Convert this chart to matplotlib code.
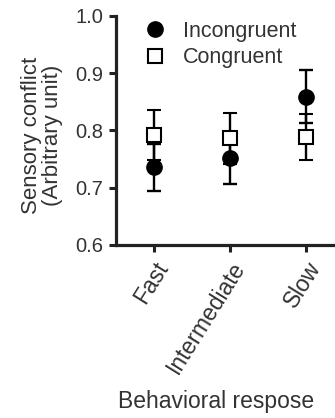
import numpy as np
import matplotlib
matplotlib.use("Agg")
import matplotlib.pyplot as plt
from matplotlib.lines import Line2D

categories = ["Fast", "Intermediate", "Slow"]
incongruent = [0.736, 0.751, 0.859]
incongruent_err = [0.041, 0.044, 0.046]
congruent = [0.792, 0.786, 0.789]
congruent_err = [0.043, 0.045, 0.040]

plt.rcParams['font.family'] = ['Liberation Sans', 'DejaVu Sans']

fig = plt.figure(figsize=(3.35, 4.18), dpi=100)
ax = fig.add_axes([0.346, 0.414, 0.654, 0.548])

x = np.arange(len(categories))
ax.errorbar(x, incongruent, yerr=incongruent_err, fmt='o', color='black',
            ms=11, elinewidth=1.7, capsize=5.2, capthick=1.7, zorder=3)
ax.errorbar(x, congruent, yerr=congruent_err, fmt='s', color='black',
            mfc='white', mec='black', mew=1.5, ms=10, elinewidth=1.7,
            capsize=5.2, capthick=1.7, zorder=4)

ax.set_xlim(-0.5, 2.38)
ax.set_ylim(0.6, 1.0)
ax.set_yticks([0.6, 0.7, 0.8, 0.9, 1.0])
ax.set_yticklabels(["0.6", "0.7", "0.8", "0.9", "1.0"], fontsize=14.5, color='#333333')
ax.set_xticks(x)
ax.set_xticklabels(categories, rotation=58, ha='right', rotation_mode='anchor',
                   fontsize=16.5, color='#333333')

for s in ['top', 'right']:
    ax.spines[s].set_visible(False)
for s in ['left', 'bottom']:
    ax.spines[s].set_linewidth(2.3)
    ax.spines[s].set_color('#222222')
ax.tick_params(width=2.2, length=5, pad=4, color='#222222')

ax.set_ylabel("Sensory conflict\n(Arbitrary unit)", fontsize=16, linespacing=1.05,
              color='#333333')
ax.yaxis.set_label_coords(-0.24, 0.48)
ax.set_xlabel("Behavioral respose", fontsize=16.5, color='#333333')
ax.xaxis.set_label_coords(0.455, -0.635)

handles = [Line2D([], [], marker='o', ls='none', color='black', ms=11),
           Line2D([], [], marker='s', ls='none', mfc='white', mec='black', mew=1.5, ms=10)]
ax.legend(handles, ["Incongruent", "Congruent"], frameon=False, fontsize=15.5,
          loc='upper left', bbox_to_anchor=(0.08, 1.026), borderpad=0,
          handletextpad=0.8, labelspacing=0.25, handlelength=1.0,
          labelcolor='#333333')

fig.savefig("out.png", dpi=100)
